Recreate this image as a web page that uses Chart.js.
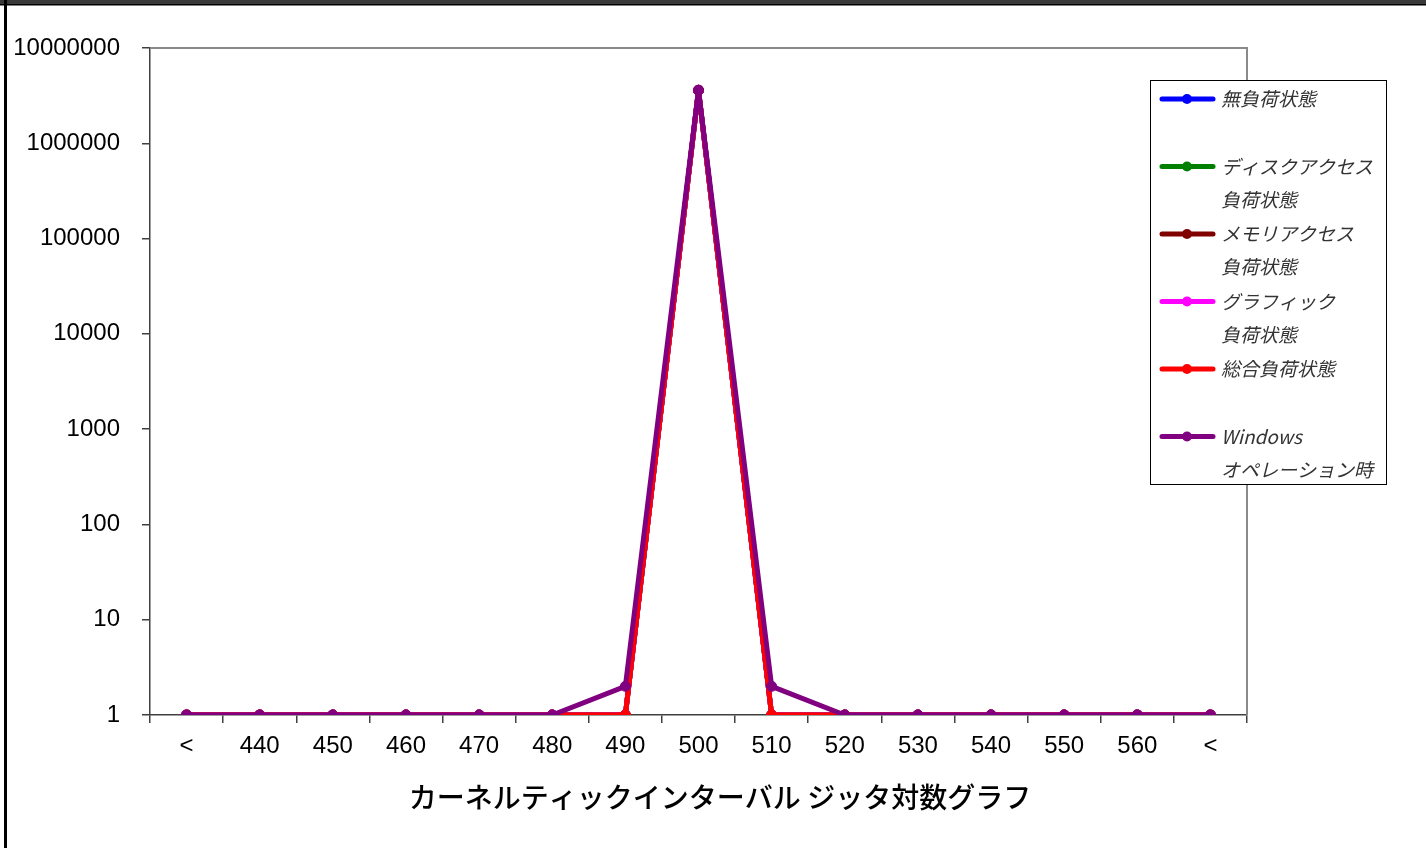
<!DOCTYPE html>
<html>
<head>
<meta charset="utf-8">
<script src="https://cdn.jsdelivr.net/npm/chart.js@4.4.1/dist/chart.umd.min.js"></script>
<style>
html, body { margin: 0; padding: 0; background: #fff; }
#wrap { position: relative; width: 1426px; height: 848px; }
</style>
</head>
<body>
<div id="wrap"><canvas id="c" width="1426" height="848"></canvas></div>
<script>
// データ
const categories = ['<', '440', '450', '460', '470', '480', '490', '500', '510', '520', '530', '540', '550', '560', '<'];
const noLoad     = [1, 1, 1, 1, 1, 1, 1, 3600000, 1, 1, 1, 1, 1, 1, 1];
const diskLoad   = [1, 1, 1, 1, 1, 1, 1, 3600000, 1, 1, 1, 1, 1, 1, 1];
const memLoad    = [1, 1, 1, 1, 1, 1, 1, 3600000, 1, 1, 1, 1, 1, 1, 1];
const gfxLoad    = [1, 1, 1, 1, 1, 1, 1, 3600000, 1, 1, 1, 1, 1, 1, 1];
const totalLoad  = [1, 1, 1, 1, 1, 1, 1, 3600000, 1, 1, 1, 1, 1, 1, 1];
const winOp      = [1, 1, 1, 1, 1, 1, 2, 3600000, 2, 1, 1, 1, 1, 1, 1];
const yTicks     = [1, 10, 100, 1000, 10000, 100000, 1000000, 10000000];
const chartTitle = 'カーネルティックインターバル ジッタ対数グラフ';

const series = [
	{ label: ['無負荷状態', ''], data: noLoad, color: '#0000FF' },
	{ label: ['ディスクアクセス', '負荷状態'], data: diskLoad, color: '#008000' },
	{ label: ['メモリアクセス', '負荷状態'], data: memLoad, color: '#800000' },
	{ label: ['グラフィック', '負荷状態'], data: gfxLoad, color: '#FF00FF' },
	{ label: ['総合負荷状態', ''], data: totalLoad, color: '#FF0000' },
	{ label: ['Windows', 'オペレーション時'], data: winOp, color: '#800080' }
];

const tickFont = { family: '"Liberation Sans", Arial, sans-serif', size: 24 };

// 外枠・プロット枠・凡例・タイトル
const framePlugin = {
	id: 'frame',
	beforeDraw(chart) {
		const ctx = chart.ctx;
		ctx.save();
		ctx.fillStyle = '#fff';
		ctx.fillRect(0, 0, chart.width, chart.height);
		ctx.fillStyle = '#3a3a3a';
		ctx.fillRect(0, 0, chart.width, 4);
		ctx.fillStyle = '#000';
		ctx.fillRect(0, 4, chart.width, 1.5);
		ctx.fillRect(4, 0, 3, chart.height);
		ctx.restore();
	},
	beforeDatasetsDraw(chart) {
		const { ctx, chartArea: a } = chart;
		ctx.save();
		ctx.strokeStyle = '#8a8a8a';
		ctx.lineWidth = 2;
		ctx.beginPath();
		ctx.moveTo(a.left, a.top);
		ctx.lineTo(a.right, a.top);
		ctx.lineTo(a.right, a.bottom);
		ctx.stroke();
		ctx.restore();
	},
	afterDraw(chart) {
		const ctx = chart.ctx;
		const bx = 1150.5, by = 80.5, bw = 236, bh = 404;
		ctx.save();
		ctx.fillStyle = '#fff';
		ctx.fillRect(bx, by, bw, bh);
		ctx.strokeStyle = '#000';
		ctx.lineWidth = 1;
		ctx.strokeRect(bx, by, bw, bh);
		ctx.font = 'italic 19px "Noto Sans CJK JP", sans-serif';
		ctx.textBaseline = 'middle';
		chart.data.datasets.forEach((ds, i) => {
			const y = 99 + i * 67.5;
			ctx.strokeStyle = ds.borderColor;
			ctx.lineWidth = 5;
			ctx.lineCap = 'round';
			ctx.beginPath();
			ctx.moveTo(1162, y);
			ctx.lineTo(1213, y);
			ctx.stroke();
			ctx.fillStyle = ds.borderColor;
			ctx.beginPath();
			ctx.arc(1187, y, 5, 0, Math.PI * 2);
			ctx.fill();
			ctx.fillStyle = '#333';
			ds.label.forEach((t, j) => {
				ctx.fillText(t, 1221, y + j * 33);
			});
		});
		// タイトル
		ctx.font = '500 28px "Noto Sans CJK JP", sans-serif';
		ctx.fillStyle = '#000';
		ctx.textAlign = 'center';
		ctx.fillText(chartTitle, 720, 797);
		ctx.restore();
	}
};

new Chart(document.getElementById('c'), {
	type: 'line',
	data: {
		labels: categories,
		datasets: series.map((s, i) => ({
			label: s.label,
			data: s.data,
			order: series.length - i,
			borderColor: s.color,
			backgroundColor: s.color,
			pointBackgroundColor: s.color,
			pointBorderColor: s.color,
			pointRadius: 5,
			pointBorderWidth: 1,
			borderWidth: 5,
			borderJoinStyle: 'round',
			borderCapStyle: 'round',
			tension: 0,
			fill: false
		}))
	},
	options: {
		responsive: false,
		animation: false,
		layout: { padding: { left: 0, top: 48, right: 179, bottom: 0 } },
		plugins: {
			legend: { display: false },
			tooltip: { enabled: false }
		},
		scales: {
			x: {
				type: 'category',
				offset: true,
				grid: {
					offset: true,
					drawOnChartArea: false,
					drawTicks: true,
					tickLength: 8,
					color: '#404040',
					lineWidth: 1.5
				},
				border: { color: '#404040', width: 1.5 },
				ticks: { font: tickFont, color: '#000', padding: 9, maxRotation: 0, autoSkip: false },
				afterFit(s) { s.height = 133; }
			},
			y: {
				type: 'logarithmic',
				min: 1,
				max: 10000000,
				grid: {
					drawOnChartArea: false,
					drawTicks: true,
					tickLength: 8,
					color: '#404040',
					lineWidth: 1.5
				},
				border: { color: '#404040', width: 1.5 },
				ticks: {
					font: tickFont,
					color: '#000',
					padding: 22,
					callback: v => String(v)
				},
				afterBuildTicks(s) { s.ticks = yTicks.map(v => ({ value: v })); },
				afterFit(s) { s.width = 150; }
			}
		}
	},
	plugins: [framePlugin]
});
</script>
</body>
</html>
